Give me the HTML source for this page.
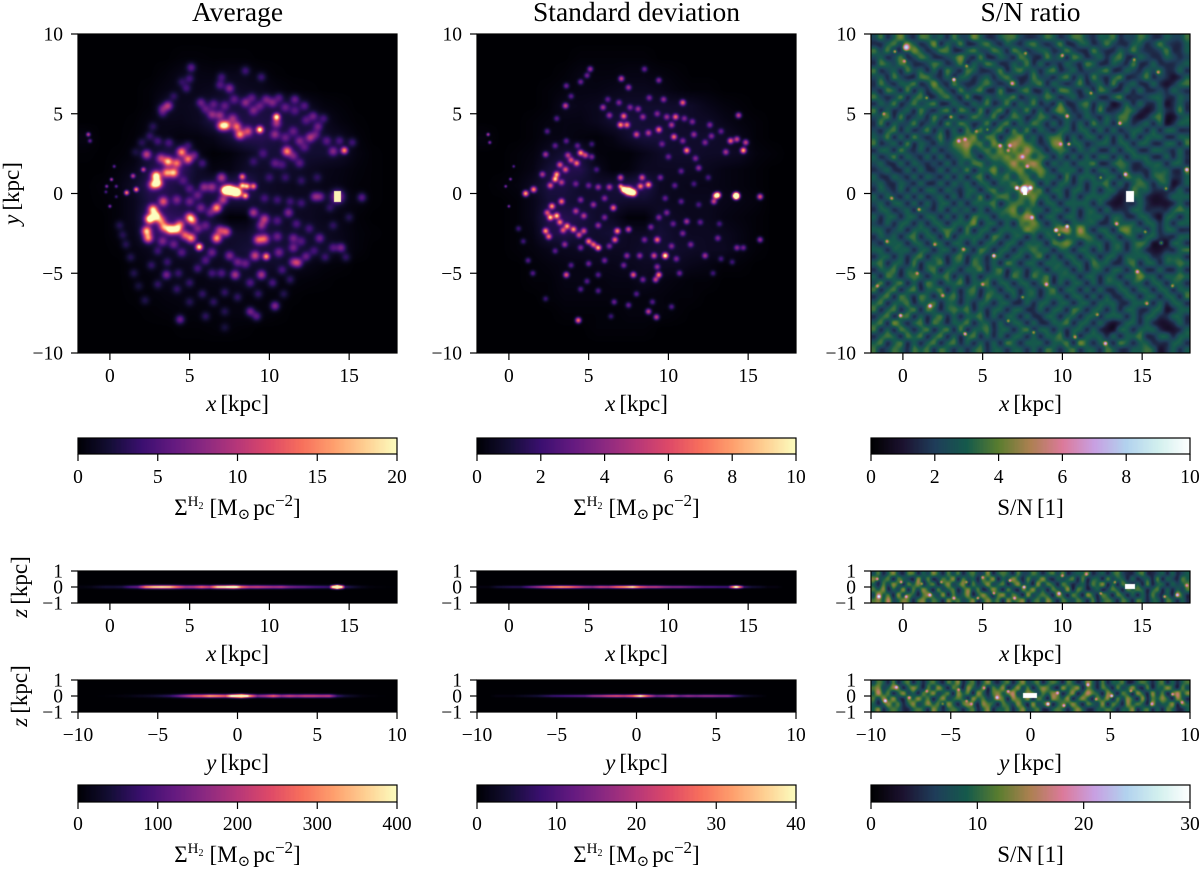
<!DOCTYPE html>
<html lang="en">
<head>
<meta charset="utf-8">
<title>H2 surface density maps</title>
<style>
html,body{margin:0;padding:0;background:#fff;}
#figure{position:relative;width:1200px;height:870px;overflow:hidden;background:#fff;}
canvas{position:absolute;display:block;}
svg{position:absolute;left:0;top:0;}
text{font-family:"Liberation Serif","DejaVu Serif",serif;fill:#000;}
.title{font-size:27.5px;text-anchor:middle;}
.lab{font-size:23px;text-anchor:middle;}
.tick{font-size:19.5px;}
</style>
</head>
<body>
<div id="figure">
<canvas id="c-avg" width="319" height="319" style="left:78px;top:34px"></canvas>
<canvas id="c-std" width="319" height="319" style="left:477px;top:34px"></canvas>
<canvas id="c-sn" width="319" height="319" style="left:871px;top:34px"></canvas>
<canvas id="cb1-avg" width="319" height="16" style="left:78px;top:438px"></canvas>
<canvas id="cb1-std" width="319" height="16" style="left:477px;top:438px"></canvas>
<canvas id="cb1-sn" width="319" height="16" style="left:871px;top:438px"></canvas>
<canvas id="xz-avg" width="319" height="32" style="left:78px;top:571px"></canvas>
<canvas id="xz-std" width="319" height="32" style="left:477px;top:571px"></canvas>
<canvas id="xz-sn" width="319" height="32" style="left:871px;top:571px"></canvas>
<canvas id="yz-avg" width="319" height="32" style="left:78px;top:680px"></canvas>
<canvas id="yz-std" width="319" height="32" style="left:477px;top:680px"></canvas>
<canvas id="yz-sn" width="319" height="32" style="left:871px;top:680px"></canvas>
<canvas id="cb2-avg" width="319" height="17" style="left:78px;top:785px"></canvas>
<canvas id="cb2-std" width="319" height="17" style="left:477px;top:785px"></canvas>
<canvas id="cb2-sn" width="319" height="17" style="left:871px;top:785px"></canvas>

<svg id="overlay" width="1200" height="870" viewBox="0 0 1200 870">
  <text class="title" x="237.5" y="21">Average</text>
  <text class="title" x="636.5" y="21">Standard deviation</text>
  <text class="title" x="1030.5" y="21">S/N ratio</text>

  <text class="lab" transform="translate(19,193.5) rotate(-90)"><tspan font-style="italic">y</tspan><tspan dx="4">[kpc]</tspan></text>
  <text class="lab" transform="translate(27,587) rotate(-90)"><tspan font-style="italic">z</tspan><tspan dx="4">[kpc]</tspan></text>
  <text class="lab" transform="translate(27,696) rotate(-90)"><tspan font-style="italic">z</tspan><tspan dx="4">[kpc]</tspan></text>

  <text class="lab" x="237.5" y="411"><tspan font-style="italic">x</tspan><tspan dx="4">[kpc]</tspan></text>
  <text class="lab" x="636.5" y="411"><tspan font-style="italic">x</tspan><tspan dx="4">[kpc]</tspan></text>
  <text class="lab" x="1030.5" y="411"><tspan font-style="italic">x</tspan><tspan dx="4">[kpc]</tspan></text>
  <text class="lab" x="237.5" y="661"><tspan font-style="italic">x</tspan><tspan dx="4">[kpc]</tspan></text>
  <text class="lab" x="636.5" y="661"><tspan font-style="italic">x</tspan><tspan dx="4">[kpc]</tspan></text>
  <text class="lab" x="1030.5" y="661"><tspan font-style="italic">x</tspan><tspan dx="4">[kpc]</tspan></text>
  <text class="lab" x="237.5" y="770"><tspan font-style="italic">y</tspan><tspan dx="4">[kpc]</tspan></text>
  <text class="lab" x="636.5" y="770"><tspan font-style="italic">y</tspan><tspan dx="4">[kpc]</tspan></text>
  <text class="lab" x="1030.5" y="770"><tspan font-style="italic">y</tspan><tspan dx="4">[kpc]</tspan></text>

  <text class="lab" x="237.5" y="515">Σ<tspan font-size="15" dy="-9">H</tspan><tspan font-size="10" dy="3">2</tspan><tspan dy="6" dx="6">[M</tspan><tspan font-size="15" dy="4">⊙</tspan><tspan dy="-4" dx="3">pc</tspan><tspan font-size="17" dy="-9">−2</tspan><tspan dy="9">]</tspan></text>
  <text class="lab" x="636.5" y="515">Σ<tspan font-size="15" dy="-9">H</tspan><tspan font-size="10" dy="3">2</tspan><tspan dy="6" dx="6">[M</tspan><tspan font-size="15" dy="4">⊙</tspan><tspan dy="-4" dx="3">pc</tspan><tspan font-size="17" dy="-9">−2</tspan><tspan dy="9">]</tspan></text>
  <text class="lab" x="1030.5" y="515">S/N<tspan dx="4">[1]</tspan></text>
  <text class="lab" x="237.5" y="862">Σ<tspan font-size="15" dy="-9">H</tspan><tspan font-size="10" dy="3">2</tspan><tspan dy="6" dx="6">[M</tspan><tspan font-size="15" dy="4">⊙</tspan><tspan dy="-4" dx="3">pc</tspan><tspan font-size="17" dy="-9">−2</tspan><tspan dy="9">]</tspan></text>
  <text class="lab" x="636.5" y="862">Σ<tspan font-size="15" dy="-9">H</tspan><tspan font-size="10" dy="3">2</tspan><tspan dy="6" dx="6">[M</tspan><tspan font-size="15" dy="4">⊙</tspan><tspan dy="-4" dx="3">pc</tspan><tspan font-size="17" dy="-9">−2</tspan><tspan dy="9">]</tspan></text>
  <text class="lab" x="1030.5" y="862">S/N<tspan dx="4">[1]</tspan></text>
</svg>
</div>

<script>
/* ---------- tick data ---------- */
const xTickValues = [0, 5, 10, 15];
const xTickLabels = ["0", "5", "10", "15"];
const yTickValues = [-10, -5, 0, 5, 10];
const yTickLabels = ["−10", "−5", "0", "5", "10"];
const zTickValues = [-1, 0, 1];
const zTickLabels = ["−1", "0", "1"];

const cbarAvgTicks = [0, 5, 10, 15, 20];
const cbarStdTicks = [0, 2, 4, 6, 8, 10];
const cbarSnTicks = [0, 2, 4, 6, 8, 10];
const cbarAvgEdgeTicks = [0, 100, 200, 300, 400];
const cbarStdEdgeTicks = [0, 10, 20, 30, 40];
const cbarSnEdgeTicks = [0, 10, 20, 30];

/* ---------- colormap stops ---------- */
const magmaStops = ["#000004","#140e36","#3b0f70","#641a80","#8c2981","#b73779","#de4968","#f76f5c","#fe9f6d","#fecf92","#fcfdbf"];
const cubeStops = ["#000000","#1c1230","#1f3d5a","#155a4c","#5a7d2f","#ad8052","#dc7a9a","#c8a0e2","#b2d2ee","#d2f0ee","#ffffff"];

/* ---------- face-on diffuse background, M_sun/pc^2, 1 kpc cells, top row y=9.5 ---------- */
const avgBackground = [
[0,0,0,0,0,0,0,0,0,0,0,0,0,0,0,0,0,0,0,0],
[0,0,0,0,0,0,.2,.2,.1,.1,.1,0,0,0,0,0,0,0,0,0],
[0,0,0,0,0,.3,.8,.6,.5,.8,.8,.4,.1,0,0,0,0,0,0,0],
[0,0,0,0,.2,.6,.8,.8,1,1.5,1.2,1,.5,.2,.1,0,0,0,0,0],
[0,0,0,0,.2,1.5,1,1.2,1.8,2,2,2.2,2.2,1.8,1,.4,.2,0,0,0],
[0,0,0,.1,.5,.8,.8,1.2,2.5,3,2.5,2.5,2.2,2,2,1,.4,.1,0,0],
[.5,0,0,.2,.6,.6,.4,.4,.8,2,3,3,2.2,2.2,2.2,1.5,1,.3,0,0],
[.1,0,.1,.3,1.5,2.5,2.5,.6,.1,.3,1,1.8,2,2,1.8,1.8,1.5,.5,.1,0],
[0,0,.3,.8,2.5,3.5,3.5,1.5,.5,.6,1.5,1.5,1.5,1.5,1.2,.8,.6,.3,.1,0],
[0,.2,.5,1.5,3,3,2,1.5,2.5,3,4,1.5,1.2,1,1,.7,.5,.2,.1,0],
[0,.1,.3,1,2.5,2.5,2,2,2,2,2,1.5,1.2,1.2,1.2,1,.7,.5,.1,0],
[0,0,.3,1,3.5,3.5,3,2,1.5,.1,.2,2,1.5,1.2,1.2,.8,.6,.2,0,0],
[0,0,.3,.8,3,3.5,2.5,2,2.5,1.5,1.5,2.5,1.8,1.5,1.5,1.2,.8,.3,.1,0],
[0,0,.1,.5,1,1.2,1.5,2,1.5,1.5,2,2.2,2,1.8,1.5,1.5,.8,.3,0,0],
[0,0,0,.3,.5,.8,.8,1,1,1.2,1.5,1.5,1.5,1,.7,.3,.2,0,0,0],
[0,0,0,.2,.3,.7,.8,.5,.7,.8,1.2,.8,.5,.3,.2,.1,0,0,0,0],
[0,0,0,.1,.2,.4,.5,.5,.4,.4,.4,.4,.3,.1,0,0,0,0,0,0],
[0,0,0,0,.1,.2,.3,.3,.3,.4,.5,.4,.2,0,0,0,0,0,0,0],
[0,0,0,0,0,0,.1,.1,.2,.2,.1,0,0,0,0,0,0,0,0,0],
[0,0,0,0,0,0,0,0,0,0,0,0,0,0,0,0,0,0,0,0]
];
const stdBackground = [
[0,0,0,0,0,0,0,0,0,0,0,0,0,0,0,0,0,0,0,0],
[0,0,0,0,0,0,.1,.1,.1,.1,.1,0,0,0,0,0,0,0,0,0],
[0,0,0,0,0,.1,.3,.2,.2,.3,.3,.2,.1,0,0,0,0,0,0,0],
[0,0,0,0,.1,.2,.3,.3,.4,.5,.5,.4,.2,.1,.1,0,0,0,0,0],
[0,0,0,0,.1,.5,.4,.5,.7,.8,.8,.8,.8,.7,.4,.2,.1,0,0,0],
[0,0,0,.1,.2,.3,.3,.5,.9,1.1,.9,.9,.8,.7,.7,.4,.2,.1,0,0],
[.2,0,0,.1,.3,.3,.2,.1,.3,.8,1.1,1.1,.8,.8,.8,.7,.4,.1,0,0],
[0,0,.1,.2,.6,1,1,.2,.1,.1,.4,.7,.8,.8,.7,.7,.6,.2,.1,0],
[0,0,.1,.3,1,1.4,1.4,.5,.1,.2,.6,.6,.6,.6,.5,.3,.2,.1,0,0],
[0,.1,.2,.6,1.2,1.2,.8,.8,1,1.3,1.5,.6,.5,.4,.4,.3,.2,.1,0,0],
[0,0,.1,.4,1,1,.8,.8,.9,.8,.8,.6,.5,.5,.5,.4,.3,.2,0,0],
[0,0,.1,.4,1.4,1.4,1.2,.8,.6,.1,.1,.8,.6,.5,.5,.3,.2,.1,0,0],
[0,0,.1,.3,1.2,1.4,1,.8,1,.6,.6,1,.7,.6,.6,.5,.3,.1,0,0],
[0,0,.1,.2,.4,.5,.6,.7,.6,.6,.8,.9,.8,.7,.6,.6,.3,.1,0,0],
[0,0,0,.1,.2,.3,.3,.4,.4,.5,.6,.6,.6,.4,.3,.1,.1,0,0,0],
[0,0,0,.1,.1,.3,.3,.2,.3,.3,.5,.3,.2,.1,.1,0,0,0,0,0],
[0,0,0,0,.1,.2,.2,.2,.2,.2,.2,.2,.1,.1,0,0,0,0,0,0],
[0,0,0,0,0,.1,.1,.1,.1,.2,.2,.2,.1,0,0,0,0,0,0,0],
[0,0,0,0,0,0,0,.1,.1,.1,.1,0,0,0,0,0,0,0,0,0],
[0,0,0,0,0,0,0,0,0,0,0,0,0,0,0,0,0,0,0,0]
];

/* ---------- clumps: [x kpc, y kpc, peak value, optional width kpc] ---------- */
const avgClumps = [
[14.27,-.2,8,.3],[7.5,.2,30,.2],[7.2,.2,20,.18],[7.85,.1,26,.18],[8.05,.05,14],[8.3,1.05,12,.13],[8.3,.5,14,.13],[8.6,.45,14,.13],[9,.45,12,.13],[8.5,-.15,14,.13],[7,1,8],
[6.7,-.9,14],[7.1,-.4,8],[6.7,-2.8,14],[7.3,-2.4,10],[6.9,-2.3,8],[5.6,-3.35,18,.15],[5.1,-2.8,13],[5,-1.5,13],[5.2,-1.7,10],
[2.7,-1,16],[2.9,-1.4,18],[2.5,-1.6,20],[3.2,-1.7,10],[3.8,-2.25,18],[4.2,-2.25,16],[2.3,-2.35,15],[2.4,-2.8,13],[3.35,-.5,10],[4.4,-1.95,10],[3.4,-2.1,12],[4.7,-2.6,10],
[2.9,1.1,20],[3,.65,18],[3.65,2,15],[3.55,1.3,12],[4,1.3,14],[4.5,2.6,13],[4.9,2.15,12],[4.2,1.9,11],[2.3,2.45,9],[2.7,.55,12],[1.65,.25,14,.1],[1.05,.05,14,.1],[1.45,1.1,9,.1],[2.1,1.5,9,.1],[3.2,2.2,8],[5.3,2.4,5],
[.1,.88,10,.07],[-.2,.45,8,.07],[.4,.45,6,.07],[0,-.8,8,.07],[.27,1.7,6,.07],[-.25,.1,5,.07],[.4,-.2,4,.07],[-1.35,3.7,10,.09],[-1.25,3.3,6,.09],
[7,4.25,13],[7.3,4.27,14],[7.95,4.2,11],[8.15,3.7,13],[8.65,3.9,9],[9.4,4,18,.15],[10.45,4.8,18,.15],[11.1,2.65,13],[14.7,2.7,14,.15],[12.55,3.5,7],[14,2.65,6],
[6.4,4.95,6],[6.9,4.9,6],[7.7,4.7,6],[3.65,5.5,8],[3.3,5.3,5],[5.1,7.9,5],[7.5,6.6,6],[5.7,5.7,5],[8.5,5.7,6],[9.8,5.9,5],[10.2,5.7,5],[11.6,5.9,5],[10.45,4.4,7],[10.35,3.7,6],[12.75,4.85,5],[13.05,4.2,5],[11.9,3.3,5],[11.5,2.35,5],[11.9,1.9,4],[10.35,1.9,4],[12.2,5.5,4],[9,5.2,5],[6.9,6.8,4],[8.5,7.7,3.5],[9.5,7.3,3.5],[7,7.3,3.5],[4.8,6.6,3.5],[5,7.2,3.5],
[4,6.1,2.5],[3.3,5,2.5],[2.7,4.2,2.5],[4.5,7,2.5],[2,3.2,2.5],[1.6,2.6,2],
[12.85,-.2,6],[13.2,-.2,5],[15.8,-.25,5],[13.15,-2.8,5],[14.5,-3.4,6],[14,-3.4,4],[11.5,-2.8,5],[9.8,-3.95,14,.15],[9.1,-3.9,9],[9.7,-2.85,10],[9.3,-2.9,10],[9.7,-1.6,8],[9.5,-2,6],[9,-1.2,8],[11.2,-1.2,6],[11.8,-4.35,8],[11.5,-4.3,6],[9.5,-5.1,8],[7.85,-5.1,8],[7.5,-3.9,6],[10.35,-7.05,7],[8.8,-7.4,6],[9.2,-7.7,5],[4.4,-7.9,6],[3.55,-5.1,6],[12.3,-3.95,5],[11.5,-3.4,5],[10.6,-3.7,5],[6.4,-3.7,5],[8,-4.3,5],
[.6,-2,2.5],[.8,-2.6,2.5],[1,-3.2,2.5],[1.3,-4,2.5],[1.5,-5,2.5],[2.2,-6.7,2.5],[1.8,-5.8,2],[3,-3.6,3],[3.6,-4.3,3],[4.3,-5,3],[5,-5.6,3],[5.8,-6.3,3],[6.5,-6.8,3],[7.2,-7.4,2.5],[4.2,-6,3],[5,-6.8,2.5],[2.6,-4.5,3],[3,-5.7,3],
[6,5.3,4],[6.5,5.6,4],[7.2,5.5,4],[7.8,5.9,4],[8.9,6,4],[9.4,5.5,4],[10.6,6,4],[11,5.4,4],[11.6,5.2,3.5],[12.3,4.6,3.5],[13.4,4.7,3.5],[12.9,3.7,4],[13.6,3.3,4],[14.4,3.3,3.5],[15.2,3.2,3.5],[11,3.5,4],[11.5,3.9,4],[12.2,2.9,3.5],[10.8,1.8,3],[9.6,2.5,3],[9,2,2.5],[10,1,2.5],[11,1,2.5],[12,.8,2.5],[13,1,2.5],[9.7,-.3,3],[10.5,-.4,3],[11.3,-.5,3],[12,-.6,3],[13.8,-.9,2.5],[10.5,-1.7,3.5],[11.7,-1.9,3.5],[12.5,-2.2,3],[14,-2,2.5],[15,-1.5,2.5],[10.5,-2.7,4.5],[12,-3,3.5],[12.8,-3.6,3],[13.5,-4,3],[14.8,-4,3],[10.8,-4.8,3.5],[11.3,-5.4,3],[10.2,-5.6,4],[8.8,-5.6,4],[8.5,-4.4,4.5],[7,-5,4],[6.4,-5,3.5],[5.5,-4.7,3.5],[6,-4.2,4],[7.2,-6.2,3],[8,-6.5,3],[9.3,-6.3,3],[10.9,-6.3,2.5],[6,-7.7,3],[7.2,-8.4,2],[3.3,-3,5],[4,-3.2,4.5],[4.5,-3.7,4],[5.5,-2.2,5],[6,-2,4],[6.3,-1.2,4.5],[5.7,-.9,5],[5,-.5,4.5],[4.2,-.4,5],[5.5,-.1,4.5],[5.9,.4,6],[6.4,.4,6],[5,.3,3.5],[4.6,.8,3],[5.8,1.9,3.5],[4.9,3,3],[3.7,3.2,3.5],[3,3.3,3.5],[2.5,3.6,3]
];
const avgBlocks = [[14.27,-.2,.24,.34]];
const stdClumps = [
[14.25,-.15,22,.13],[7.5,.15,16,.16],[7.2,.25,11,.13],[7.8,.05,13,.14],[7,.45,6,.1],[8.75,.55,7],[8.25,.45,6],[8.35,1,5],[7,1,5],[6.3,.4,4],[5.6,.4,3.5],
[12.95,-.15,7],[13.1,-.1,10],[15.75,-.2,6],[12.85,-.5,5],
[5.6,-3.4,8],[5,-3,6.5],[2.7,-.8,7],[2.6,-1.5,8],[3,-1.4,8],[3.65,-2.05,7],[4.05,-2.25,7],[2.3,-2.35,7],[2.5,-2.7,6],[3.3,-.5,6],[4.7,-2.35,5],[3.2,-1.8,6],[2.4,-1.2,5],[3.4,-2.3,5],[4.4,-2.6,5],[5.3,-3.2,6],[4.7,-1.4,4],[4.2,-1.1,4],
[2.9,.9,8],[3,1.2,7],[3.55,1.5,5],[4.5,2.55,7],[4.25,1.9,6],[3.2,1.8,5],[1.55,.25,7],[1.05,0,8],[2.3,2.45,4],[3.9,2.1,5],[4.8,2.4,5],[2.6,.5,5],[3.3,.7,4],[2.1,1.2,4],[3.7,2.4,4],[5.2,2.3,3],
[.1,.9,4,.06],[-.2,.45,4,.06],[0,-.8,4,.06],[-1.3,3.7,5,.07],[-1.2,3.2,4,.07],[.3,1.7,3,.06],
[7.2,4.85,6],[7,4.3,7],[7.4,4.3,6],[8,3.7,5],[8.75,3.8,4],[9.4,4,6],[10.9,5.7,6],[10.45,4.8,6],[10.35,3.55,6],[11.15,2.7,7],[14.7,2.7,8],[14.85,3.2,5],[13.9,3.3,6],[14.3,3.4,5],[14.4,4.9,5],[3.55,5.5,5],[5.1,7.8,4],[7.05,7.2,5],[7.5,6.65,4],[3.6,6.75,3],
[5.9,5.4,4],[6.3,4.9,3.5],[8.4,4.8,3.5],[9.7,5.9,3.5],[10.2,4.3,4],[11.5,4.5,3],[12.6,4.3,3],[12.3,3.2,3],[11.7,2.2,3],[11.9,1.6,3.5],[13.6,2.6,4],[8.8,6,3],[9.4,7.1,3.5],[8.5,7.8,3],[4.9,7.4,3],[4.5,7,3],[3.9,6.1,2.5],[3,4.7,2.5],[2.4,3.9,2.5],
[9.3,-2.9,6],[9.8,-3.9,10],[9.1,-3.9,5],[9.4,-5.1,7],[9.2,-5.4,5],[7.8,-5.1,6],[11.15,-1.75,4],[6.8,-2.35,7],[6.65,-2.9,6],[7.5,-2.25,5],[6.55,-.9,6],[4.35,-7.95,7],[8.75,-7.4,5],[9.25,-7.75,5],[3.6,-5.1,6],[15.75,-2.9,4],[14.3,-3.4,3.5],[12.3,-3.9,4],[14.7,-3.4,3],[13.1,-2.8,3],[9.9,-1.2,3],[10.9,-2.5,3],[11.4,-3.2,3],[10.5,-4.1,3],[8.2,-3.9,3.5],[7.4,-3.9,3.5],[6.3,-3.3,3],
[.6,-2.2,2],[.9,-3,2],[1.2,-4.2,2.5],[1.5,-5,2.5],[2.3,-6.6,2],[2.9,-3.6,2.5],[3.9,-4.5,2.5],[4.9,-5.5,2.5],[5.6,-6.1,2.5],[6.6,-6.8,3],[7.5,-7,3],[10.2,-7.1,2.5],[4.5,-6,2.5],[5.6,-5.1,2.5],
[6.2,5.9,2.5],[6.9,5.7,3],[7.6,5.4,3],[8.1,5.3,3.5],[9.3,5,3],[9.9,4.8,3.5],[11,4.7,3],[11.6,3.7,3.5],[12.7,3.6,3],[13.3,3.9,2.5],[10.9,3.3,3],[9.6,3.1,2.5],[10,2.3,2.5],[10.8,1.4,2.5],[9.5,1,3],[10.4,.5,2.5],[11.6,.6,2],[12.5,1,2],[9.8,-.3,2.5],[10.8,-.5,2.5],[11.9,-.7,2],[12,-1.8,2.5],[13.2,-1.9,2],[10.3,-1.9,2.5],[9.4,-1.5,3],[8.9,-2.1,3],[8.5,-2.9,3],[10.2,-3.3,3],[9.3,-4.6,3.5],[10.7,-5,3],[8.4,-5.4,3],[7.2,-4.5,3],[6,-4.2,3],[5,-4.4,3],[3.5,-3.2,3.5],[4.5,-3.4,3],[5.6,-2,3.5],[6,-1.5,3],[5.3,-.7,3.5],[6,-.3,3],[4.5,-.4,3],[5,.5,2.5],[4.2,.6,2.5],[5.5,1.5,2],[5.2,3.1,2],[4.3,3,2.5],[3.6,3.3,2.5],[2.9,3,2.5],[8,-6.3,2.5],[9,-6.8,2.5],[6.4,-7.7,2],[14,-4.3,2],[13.3,-4.1,2],[12.8,-5,2]
];

/* ---------- S/N face-on map, 48 x 48 cells, top row first ---------- */
const snGrid = [
[2,4,1,3,5,2,1,4,4,2,3,1,4,2,2,5,3,1,1,3,4,4,2,1,1,2,4,3,1,2,4,4,2,1,3,3,4,1,2,2,4,3,1,1,3,2,2,4],
[1,1,3,4,2,4,3,1,2,5,1,3,2,4,1,1,3,4,2,1,3,2,1,3,4,2,1,2,4,1,1,3,3,1,2,4,2,1,1,3,3,1,2,4,2,1,1,3],
[4,2,4,1,1,2,5,3,1,2,4,4,1,1,3,4,2,2,4,3,1,4,3,1,2,3,3,1,2,4,2,1,1,4,2,1,1,3,2,4,2,1,1,2,4,1,1,3],
[2,3,1,2,4,1,2,4,3,1,1,2,3,5,2,1,4,1,1,3,2,1,4,3,1,1,4,2,3,1,4,3,1,2,3,1,3,4,1,1,3,2,1,1,3,2,1,2],
[1,4,3,2,4,3,1,1,2,4,3,1,2,4,1,3,2,4,3,1,1,3,2,4,1,3,1,2,1,3,2,1,4,3,1,1,3,2,1,4,1,1,3,1,1,1,2,3],
[4,1,2,3,1,4,2,3,1,3,1,4,2,1,4,3,1,1,2,4,1,3,4,2,3,1,3,4,1,2,3,1,2,2,3,4,1,1,3,2,1,3,2,3,1,1,3,1],
[2,3,1,4,2,1,1,4,4,2,1,3,1,3,3,1,2,3,1,3,4,2,1,1,4,2,2,1,3,4,1,3,1,4,2,1,3,4,1,1,2,4,1,2,1,0,1,3],
[1,4,2,1,3,3,4,1,2,5,2,1,4,2,1,1,3,4,2,1,2,4,1,2,3,4,1,3,2,1,2,4,1,2,3,1,4,1,2,3,1,1,3,1,0,1,3,4],
[2,1,4,3,1,4,1,3,1,3,4,2,1,4,2,3,4,1,1,4,1,1,3,4,1,1,3,1,4,4,2,1,3,1,4,3,1,1,3,1,3,1,1,2,1,3,2,1],
[4,2,1,2,4,1,3,4,1,1,3,4,2,1,4,1,1,3,2,3,3,4,1,2,3,2,4,3,1,2,3,1,2,3,1,1,3,4,1,1,1,2,3,3,1,1,3,2],
[1,3,2,4,1,2,4,2,3,4,1,1,3,2,1,3,2,4,1,2,4,1,3,2,4,1,2,1,4,1,1,3,4,1,3,2,0,1,3,1,3,1,1,3,0,1,3,1],
[4,1,3,1,2,3,1,4,2,1,3,4,1,4,3,1,4,1,3,4,1,3,2,4,1,3,1,3,5,3,1,2,3,1,4,1,1,2,4,3,1,0,1,3,1,1,4,1],
[2,3,4,1,4,1,2,3,1,4,2,1,3,1,2,4,3,2,4,1,2,4,3,1,2,4,3,1,2,3,2,1,3,2,1,3,2,4,4,1,0,1,3,4,0,0,2,3],
[1,4,1,3,2,2,4,1,2,3,1,4,2,4,3,1,2,4,1,3,4,1,3,2,4,3,1,3,1,3,1,3,1,4,2,3,1,3,3,1,2,3,1,3,0,1,3,3],
[2,1,3,4,1,3,1,2,4,1,3,1,3,1,4,2,4,1,3,4,1,4,2,4,1,3,2,1,3,3,1,3,3,1,3,1,3,1,2,3,3,1,3,1,3,3,1,1],
[3,2,4,1,3,1,4,2,1,2,4,1,3,4,4,5,2,4,4,1,3,4,5,2,3,1,3,4,4,1,3,1,3,3,1,3,1,3,1,3,1,3,3,3,1,1,3,3],
[4,1,2,3,1,4,1,3,2,1,3,2,4,5,6,4,4,2,5,3,4,6,5,4,3,1,2,5,5,1,3,3,1,2,3,3,1,3,3,1,3,3,1,1,3,3,1,4],
[1,3,3,1,4,2,1,3,1,3,1,2,3,4,5,2,3,4,3,5,3,5,4,6,4,3,1,3,4,3,1,3,2,3,1,1,3,1,3,3,1,1,3,3,2,1,3,1],
[3,1,2,4,1,3,2,1,3,1,3,1,2,3,4,3,1,3,4,4,5,4,6,5,3,4,3,1,3,1,3,1,3,1,3,3,1,3,1,3,3,3,1,1,3,1,3,1],
[2,3,1,1,3,1,3,2,1,2,1,3,1,3,2,4,4,2,3,3,4,6,4,5,6,4,1,3,2,3,1,3,3,4,1,1,3,4,3,1,1,3,3,3,1,3,3,1],
[1,2,3,1,1,3,1,3,1,1,3,1,3,2,4,1,3,3,5,2,3,4,5,3,4,5,3,1,3,3,3,1,3,1,3,3,1,3,3,1,1,1,3,3,3,1,1,4],
[3,1,1,3,2,1,3,1,3,2,1,3,1,3,1,3,4,1,3,3,4,2,4,4,2,4,3,3,1,4,1,3,3,3,1,3,3,1,4,3,3,1,3,4,3,1,1,3],
[2,3,1,1,3,2,1,3,1,1,3,1,3,2,3,1,3,3,1,3,3,4,3,5,4,1,3,1,3,3,1,3,1,3,3,4,1,3,1,3,4,3,1,3,3,0,1,3],
[1,3,2,1,3,1,3,1,3,3,1,3,2,1,3,3,1,3,4,2,3,3,4,6,4,4,1,3,3,1,3,3,1,3,1,3,3,1,1,4,3,3,1,1,1,1,3,1],
[3,1,3,2,1,3,1,3,1,2,3,1,3,1,3,2,4,1,3,4,4,2,4,4,5,3,3,1,3,1,3,1,3,3,3,3,1,0,1,3,3,1,0,0,1,3,3,3],
[2,3,1,3,3,1,3,1,3,1,3,3,1,3,1,3,3,3,4,1,3,4,4,3,4,1,3,3,1,3,3,3,3,1,3,1,0,0,1,1,3,1,0,0,0,1,3,1],
[1,3,3,1,2,3,1,3,2,1,3,1,3,2,3,1,3,1,3,3,4,5,2,4,3,3,1,3,3,1,3,1,3,3,1,3,1,1,1,3,3,1,1,1,1,3,4,3],
[3,1,3,3,1,3,3,1,3,3,1,3,1,3,1,4,3,3,1,3,3,4,4,6,4,1,3,3,1,3,3,1,3,3,3,1,3,3,1,1,3,3,1,0,3,3,1,3],
[2,1,3,1,3,3,1,3,1,3,3,1,3,3,3,5,1,3,3,1,3,1,4,4,5,3,1,3,3,1,3,3,3,3,1,1,3,3,3,3,1,3,3,1,3,1,3,3],
[3,3,1,2,3,1,3,3,3,1,3,4,3,1,4,1,3,3,1,3,3,3,3,5,4,3,3,3,5,6,3,6,3,1,3,3,1,4,5,3,3,1,3,1,3,3,1,1],
[1,3,2,3,1,3,4,1,3,3,1,4,1,3,3,3,3,1,4,3,1,3,3,1,3,1,3,3,1,3,3,4,4,3,1,3,3,1,3,3,1,3,3,1,1,1,3,3],
[2,1,3,3,3,1,3,3,1,3,3,1,3,3,1,3,1,3,3,1,3,3,1,3,3,3,1,4,4,5,3,1,3,3,3,1,3,3,1,3,4,3,0,0,0,3,3,1],
[3,3,1,3,3,3,1,3,3,1,3,3,1,3,3,1,4,3,1,3,3,1,3,3,4,3,3,1,3,3,1,3,3,1,3,1,3,3,1,3,3,1,0,0,1,1,3,4],
[1,3,3,1,3,1,3,4,1,3,3,1,3,4,1,3,3,1,3,3,1,3,3,1,3,4,1,3,1,3,3,1,3,3,1,3,3,1,3,3,3,3,1,1,3,3,3,1],
[3,4,1,3,3,1,4,1,3,3,4,1,3,3,1,4,3,1,3,1,4,3,1,3,3,1,3,3,3,1,3,3,1,4,3,3,1,1,3,4,1,3,3,1,3,3,4,3],
[1,3,3,4,1,3,3,1,3,4,1,3,3,1,3,3,4,1,3,4,1,3,3,1,3,3,1,3,3,3,1,3,1,3,3,1,3,3,1,3,3,1,1,3,1,1,3,1],
[3,1,4,3,1,3,4,3,1,3,3,4,1,3,1,3,1,3,3,3,1,4,3,1,4,3,4,1,3,3,3,1,3,3,1,3,3,1,3,3,5,3,3,1,3,3,4,3],
[2,4,1,3,4,1,3,1,4,3,1,3,3,4,1,3,3,4,1,3,3,1,3,3,1,3,4,1,3,1,3,3,1,3,1,3,3,3,1,3,3,1,3,3,1,3,3,1],
[4,1,3,4,1,3,4,1,3,3,4,1,3,1,3,4,1,3,3,1,3,3,1,3,3,1,3,4,1,3,3,1,3,1,3,1,1,3,3,1,3,3,1,3,3,1,3,3],
[1,3,4,1,4,3,1,4,3,1,3,3,4,1,3,3,1,4,3,3,1,3,1,3,3,1,3,3,3,1,3,3,1,3,1,3,1,1,3,3,1,3,3,1,3,3,1,4],
[3,4,1,3,3,4,1,3,3,4,1,3,3,1,3,1,3,3,1,3,3,1,1,3,1,3,3,1,3,3,1,3,3,1,3,3,3,1,1,3,3,3,1,3,1,3,3,1],
[4,1,3,4,1,3,4,1,4,3,1,3,4,3,4,1,3,1,3,3,1,3,3,1,1,3,1,3,3,1,4,3,1,3,3,1,3,1,3,3,1,1,3,3,0,1,3,3],
[1,3,4,1,3,4,1,3,1,3,4,1,3,1,3,3,4,1,3,1,3,3,1,3,1,1,3,3,1,3,3,1,3,3,1,3,3,3,1,3,1,3,3,1,1,3,3,1],
[3,4,1,5,3,1,3,4,1,4,3,1,3,3,4,1,3,3,1,3,1,3,3,1,3,1,1,3,3,4,1,3,3,1,3,1,0,1,3,3,1,3,1,0,0,1,3,1],
[4,1,3,1,4,3,1,3,4,1,3,4,1,4,1,3,3,4,1,3,3,1,3,4,1,3,3,1,3,1,3,3,1,3,1,0,0,3,3,1,3,3,3,1,0,0,1,3],
[1,3,4,3,1,4,3,4,1,3,4,1,3,1,3,4,1,3,1,3,1,3,3,1,3,1,3,3,4,1,3,1,3,3,3,1,3,1,3,3,4,1,1,3,3,1,3,3],
[3,4,1,3,4,1,3,1,3,4,1,3,4,1,3,1,3,1,3,1,4,3,1,3,3,3,1,3,3,4,1,5,3,1,3,3,1,4,3,1,3,3,1,1,1,3,3,1],
[4,1,2,4,3,1,4,3,4,1,4,3,1,3,1,3,4,1,3,3,1,3,3,1,3,1,4,3,1,3,4,1,3,3,1,4,3,1,1,3,3,4,3,0,1,3,1,3]
];
const snSpots = [
[.2,9.15,9,.14],[-.5,8.9,7],[3.2,7.15,9],[10.3,4.85,7],[3.5,3.3,6.5],[3.9,3.4,6],[6.1,3,7],[6.7,3,6.5],[6.6,2.7,6],[10.4,3.1,8],[9.9,3.1,6],[7.6,.25,15,.13],[7.15,.35,10],[8,.35,10],[9.6,-2.3,9],[10.3,-2.05,9],[8.1,-1.5,7],[5.7,-3.9,9],[9.8,-2.6,6],[9,-5.7,7],[13.4,-1.9,7],[-.15,-7.65,8],[1.7,-7.05,8],[3.9,-8.8,8],[12.7,-9.4,8],[14.7,-4.9,7],[17.8,1.5,8],[13.95,1.2,8],[13.6,4.4,7],[10,8.65,6.5],[6.85,6.9,6.5],[7.8,1.7,6.5],[7.5,2.3,6],[4.6,3.9,5.5],[5.3,4,5.5],
[2,-3.2,6],[3.8,-3.5,6],[.1,8.3,6],[1.5,6,6],[3,4.8,6],[-.7,-.3,6],[1,-1,6],[2.5,-6.4,6],[6.6,-8,6],[8.2,-8.7,6],[10.8,-9,6],[12.2,-7.6,6],[15.3,-6.9,6],[16.9,-5.8,6],[15.2,-2.4,6],[16.2,-3.1,6],[16.5,.3,6],[12.4,1,6],[11.8,6.3,6],[16,7.6,6],[14.5,8.4,6],[4,8,6],[7.7,8.8,6],[-1.2,5,6],[-1,-3,6],[-1.6,-5.8,6],[.9,-5,6],[5,-5.7,6],[7.5,-6.5,6]
];
const snBlocks = [[14.25,-.2,.24,.34],[7.65,.1,.14,.18]];

/* ---------- edge-on surface density profiles, 0.5 kpc cells ---------- */
const avgXZProfile = [10,15,30,40,40,50,100,130,320,380,400,380,280,200,210,280,220,400,420,520,300,220,230,210,190,200,150,130,120,100,90,80,900,70,40,20,8,4,2,1];
const avgYZProfile = [0,0,1,2,4,8,12,20,25,35,50,70,120,190,260,270,340,310,270,500,700,350,160,200,280,180,230,200,230,230,210,220,80,40,25,10,5,2,1,0];
const stdXZProfile = [1,1,4,5,6,6,12,18,24,30,34,32,26,20,18,24,22,30,34,42,28,22,22,18,16,16,14,12,10,10,9,9,50,8,4,3,1,1,0,0];
const stdYZProfile = [0,0,1,1,1,2,3,4,6,8,9,10,11,12,18,20,24,26,24,30,44,26,14,16,22,14,18,16,18,18,16,16,8,4,2,1,0,0,0,0];

/* ---------- edge-on S/N, 64 x 6 cells, rows top to bottom ---------- */
const snXZGrid = [
[2,4,1,3,5,2,1,4,4,1,3,2,5,3,1,4,2,4,1,3,4,2,2,5,1,3,4,3,1,4,2,2,4,3,1,3,4,2,4,1,2,3,3,4,1,2,3,1,3,4,2,1,1,3,4,1,1,2,3,1,3,1,2,3],
[5,2,3,4,1,4,3,2,1,5,2,4,1,2,4,3,5,1,4,2,3,1,4,3,5,1,3,2,5,3,1,4,2,3,5,2,1,3,2,3,4,1,4,1,3,3,1,4,2,3,3,1,3,1,2,3,1,4,1,3,2,1,4,3],
[3,1,4,2,5,3,1,4,3,5,1,3,4,1,3,5,2,3,5,1,4,2,3,5,2,3,4,1,3,5,2,3,1,5,2,4,3,1,4,3,1,2,3,1,4,3,5,1,3,1,4,3,1,3,1,4,1,3,3,1,3,2,3,4],
[4,3,5,1,3,2,5,1,4,2,5,3,1,4,2,3,4,1,3,5,2,4,1,2,5,3,1,4,2,1,4,3,5,2,3,1,4,3,2,5,1,4,3,1,2,3,1,2,4,3,1,4,3,4,3,1,3,4,1,3,1,3,2,4],
[2,6,3,4,1,5,2,4,3,1,4,5,3,2,5,1,4,2,3,5,1,3,5,3,1,4,5,2,4,3,1,5,2,3,4,3,1,5,3,1,4,3,1,5,3,1,4,3,1,4,3,1,3,1,3,1,4,2,1,3,1,5,3,1],
[4,5,3,6,2,3,5,4,1,4,5,2,4,3,1,5,3,4,2,3,5,1,3,5,3,4,1,5,3,4,5,1,3,4,2,5,3,1,4,3,2,4,3,1,4,1,3,4,3,1,4,3,1,4,3,1,3,3,1,4,3,1,3,1]
];
const snYZGrid = [
[2,4,3,1,4,1,3,4,1,3,1,3,4,2,1,4,3,5,1,3,4,1,3,5,2,1,3,4,1,3,5,2,3,4,1,3,4,3,1,4,3,1,2,5,3,1,4,1,3,3,4,1,1,3,4,3,1,3,4,1,3,1,3,4],
[4,5,2,3,5,4,1,3,5,3,1,4,2,5,3,1,4,3,1,5,3,2,4,1,4,3,5,1,3,5,2,4,1,3,5,4,2,1,5,3,4,5,1,4,3,1,4,3,1,4,2,3,5,2,1,4,1,3,3,5,3,1,4,2],
[3,6,3,4,1,3,5,2,3,1,4,3,5,2,3,4,1,5,3,4,1,5,3,1,4,5,3,4,6,2,3,5,4,2,4,3,5,4,1,3,5,1,3,6,4,3,1,5,3,1,4,3,1,5,3,1,5,2,4,1,3,6,3,5],
[4,2,5,3,5,2,1,4,3,5,3,4,1,3,5,2,3,4,3,1,5,3,4,2,3,5,4,1,5,4,3,5,1,4,3,1,5,4,3,5,1,3,5,3,1,4,3,5,1,4,2,5,3,1,5,1,4,3,5,3,1,5,3,1],
[3,1,3,5,3,4,1,3,5,2,3,5,3,4,1,5,3,1,4,5,3,1,5,4,3,1,4,3,2,5,3,1,5,2,3,5,1,3,4,3,5,3,1,4,3,2,5,1,4,3,1,5,3,4,3,1,5,2,3,3,5,1,4,3],
[3,5,1,3,4,3,1,1,3,4,3,1,5,3,1,3,4,3,1,3,4,1,3,5,1,3,3,4,1,3,5,2,3,4,1,1,3,4,3,1,3,5,3,1,1,3,3,4,3,1,3,3,5,1,3,4,1,3,1,4,3,1,1,3]
];
const snXZSpots = [[-1.6,.5,7],[-1.5,-.6,8],[-.1,.3,7],[.2,-.6,7],[1.2,.2,6],[1.7,-.5,7],[2.4,.3,6],[3.2,-.7,7],[4,.3,6],[4.7,-.7,7],[5,.6,6],[5.7,-.4,7],[6.7,.4,7],[7.6,0,8],[7,-.7,7],[9.8,-.4,7],[10,.7,6],[11.5,.8,6],[13.3,.3,6],[17.2,-.5,7],[16.4,-.6,7],[17.8,.1,6],[12.4,-.4,6]];
const snYZSpots = [[-9.1,-.3,8],[-8.4,.55,7],[-7.6,-.1,6],[-6.5,.3,6],[-5.5,-.5,6],[-4.5,.4,6],[-3.7,-.5,6],[-2.9,.5,6],[-2.1,-.1,7],[-1.4,.3,7],[1.1,-.5,8],[1.7,.2,7],[2.1,-.6,7],[3.6,.7,7],[4.1,-.2,6],[5.1,0,9],[6.3,.3,6],[7.6,-.5,6],[8.9,.1,7],[9.5,-.4,6],[-4,-.3,6]];
const snXZBlocks = [[14.25,.02,.3,.14]];
const snYZBlocks = [[-.05,.02,.45,.16]];

/* ---------- helpers ---------- */
const PW = 319;
const columnLefts = [78, 477, 871];
const NS = "http://www.w3.org/2000/svg";
const overlay = document.getElementById("overlay");

function parseHex(h){return [parseInt(h.slice(1,3),16),parseInt(h.slice(3,5),16),parseInt(h.slice(5,7),16)];}
function makeLut(stops){
  const rgb = stops.map(parseHex);
  const lut = new Uint8ClampedArray(256*3);
  for(let i=0;i<256;i++){
    const t=i/255*(rgb.length-1),a=Math.min(Math.floor(t),rgb.length-2),f=t-a;
    for(let c=0;c<3;c++) lut[i*3+c]=rgb[a][c]+(rgb[a+1][c]-rgb[a][c])*f;
  }
  return lut;
}
const magmaLut = makeLut(magmaStops);
const cubeLut = makeLut(cubeStops);

function axisScale(d0,d1,r0,r1){return v=>r0+(v-d0)/(d1-d0)*(r1-r0);}

function sampleGrid(grid,u,v){
  const R=grid.length,C=grid[0].length;
  let fx=u*C-.5,fy=v*R-.5;
  fx=Math.max(0,Math.min(C-1.001,fx));
  fy=Math.max(0,Math.min(R-1.001,fy));
  const ix=Math.floor(fx),iy=Math.floor(fy),ax=fx-ix,ay=fy-iy;
  return (grid[iy][ix]*(1-ax)+grid[iy][ix+1]*ax)*(1-ay)+(grid[iy+1][ix]*(1-ax)+grid[iy+1][ix+1]*ax)*ay;
}
function catmull(a,b,c,d,t){return b+.5*t*(c-a+t*(2*a-5*b+4*c-d+t*(3*(b-c)+d-a)));}
function sampleCubic(grid,u,v){
  const R=grid.length,C=grid[0].length;
  const fx=Math.max(0,Math.min(C-1.001,u*C-.5)),fy=Math.max(0,Math.min(R-1.001,v*R-.5));
  const ix=Math.floor(fx),iy=Math.floor(fy),ax=fx-ix,ay=fy-iy;
  const rowVal=r=>{
    const row=grid[Math.max(0,Math.min(R-1,r))];
    const g=k=>{const w=row[Math.max(0,Math.min(C-1,k))];return w===undefined?3:w;};
    return catmull(g(ix-1),g(ix),g(ix+1),g(ix+2),ax);
  };
  return catmull(rowVal(iy-1),rowVal(iy),rowVal(iy+1),rowVal(iy+2),ay);
}
function sampleProfile(arr,u){
  let f=u*arr.length-.5;
  f=Math.max(0,Math.min(arr.length-1.001,f));
  const i=Math.floor(f),a=f-i;
  return arr[i]*(1-a)+arr[i+1]*a;
}
function paint(id,field,W,H,vmax,lut){
  const ctx=document.getElementById(id).getContext("2d");
  const im=ctx.createImageData(W,H);
  for(let p=0;p<W*H;p++){
    const k=Math.max(0,Math.min(255,Math.round(field[p]/vmax*255)));
    im.data[p*4]=lut[k*3];im.data[p*4+1]=lut[k*3+1];im.data[p*4+2]=lut[k*3+2];im.data[p*4+3]=255;
  }
  ctx.putImageData(im,0,0);
}
function addClumps(field,W,H,clumps,xd,yd,defS){
  const sx=axisScale(xd[0],xd[1],0,W),sy=axisScale(yd[0],yd[1],0,H);
  const kpcPx=W/(xd[1]-xd[0]);
  clumps.forEach(c=>{
    const cx=sx(c[0]),cy=sy(c[1]),s=(c[3]||defS)*kpcPx,rad=Math.ceil(s*3.5);
    for(let j=Math.max(0,Math.floor(cy-rad));j<=Math.min(H-1,cy+rad);j++)
      for(let i=Math.max(0,Math.floor(cx-rad));i<=Math.min(W-1,cx+rad);i++){
        const dx=i+.5-cx,dy=j+.5-cy;
        field[j*W+i]+=c[2]*Math.exp(-(dx*dx+dy*dy)/(2*s*s));
      }
  });
}
function addBlocks(field,W,H,blocks,xd,yd,val){
  const sx=axisScale(xd[0],xd[1],0,W),sy=axisScale(yd[0],yd[1],0,H);
  blocks.forEach(b=>{
    const x0=Math.round(sx(b[0]-b[2])),x1=Math.round(sx(b[0]+b[2]));
    const y0=Math.round(sy(b[1]+b[3])),y1=Math.round(sy(b[1]-b[3]));
    for(let j=y0;j<y1;j++)for(let i=x0;i<x1;i++)field[j*W+i]=val;
  });
}

/* ---------- face-on maps ---------- */
function faceOn(id,bg,clumps,blocks,vmax,defS,lut){
  const f=new Float32Array(PW*PW);
  for(let j=0;j<PW;j++)for(let i=0;i<PW;i++)f[j*PW+i]=sampleGrid(bg,(i+.5)/PW,(j+.5)/PW);
  addClumps(f,PW,PW,clumps,[-2,18],[10,-10],defS);
  addBlocks(f,PW,PW,blocks,[-2,18],[10,-10],vmax*.98);
  paint(id,f,PW,PW,vmax,lut);
}
faceOn("c-avg",avgBackground,avgClumps,avgBlocks,20,.2,magmaLut);
faceOn("c-std",stdBackground,stdClumps,[],10,.125,magmaLut);

function snMap(id,grid,spots,blocks,xd,H,vmax,yd,spotS,pivot,gain){
  const f=new Float32Array(PW*H);
  for(let j=0;j<H;j++)for(let i=0;i<PW;i++){
    const g=sampleCubic(grid,(i+.5)/PW,(j+.5)/H);
    f[j*PW+i]=(pivot+(g-pivot)*gain)*vmax/10;
  }
  const scaled=spots.map(s=>[s[0],s[1],Math.max(0,s[2]-3)*vmax/10,s[3]]);
  addClumps(f,PW,H,scaled,xd,yd,spotS);
  addBlocks(f,PW,H,blocks,xd,yd,vmax);
  paint(id,f,PW,H,vmax,cubeLut);
}
snMap("c-sn",snGrid,snSpots,snBlocks,[-2,18],PW,10,[10,-10],.08,2.8,.65);
snMap("xz-sn",snXZGrid,snXZSpots,snXZBlocks,[-2,18],32,30,[1,-1],.07,3,.75);
snMap("yz-sn",snYZGrid,snYZSpots,snYZBlocks,[-10,10],32,30,[1,-1],.07,3.1,.75);

/* ---------- edge-on strips ---------- */
function strip(id,profile,vmax,sigmaPx){
  const f=new Float32Array(PW*32);
  for(let j=0;j<32;j++){
    const dz=j+.5-16,g=Math.exp(-dz*dz/(2*sigmaPx*sigmaPx));
    for(let i=0;i<PW;i++)f[j*PW+i]=sampleProfile(profile,(i+.5)/PW)*g;
  }
  paint(id,f,PW,32,vmax,magmaLut);
}
strip("xz-avg",avgXZProfile,400,1.15);
strip("yz-avg",avgYZProfile,400,1.15);
strip("xz-std",stdXZProfile,40,.95);
strip("yz-std",stdYZProfile,40,.95);

/* ---------- colorbars ---------- */
function bar(id,H,lut){
  const f=new Float32Array(PW*H);
  for(let j=0;j<H;j++)for(let i=0;i<PW;i++)f[j*PW+i]=(i+.5)/PW;
  paint(id,f,PW,H,1,lut);
}
bar("cb1-avg",16,magmaLut);bar("cb1-std",16,magmaLut);bar("cb1-sn",16,cubeLut);
bar("cb2-avg",17,magmaLut);bar("cb2-std",17,magmaLut);bar("cb2-sn",17,cubeLut);

/* ---------- axes ---------- */
function tickLine(x1,y1,x2,y2,name){
  const el=document.createElementNS(NS,"line");
  el.setAttribute("x1",x1);el.setAttribute("y1",y1);el.setAttribute("x2",x2);el.setAttribute("y2",y2);
  el.setAttribute("stroke","#000");el.setAttribute("stroke-width","1.2");
  
  
  overlay.appendChild(el);
}
function tickText(x,y,str,anchor,name){
  const el=document.createElementNS(NS,"text");
  el.setAttribute("x",x);el.setAttribute("y",y);el.setAttribute("class","tick");el.setAttribute("text-anchor",anchor);
  el.textContent=str;
  
  
  overlay.appendChild(el);
}
function frame(x,y,w,h,name){
  const el=document.createElementNS(NS,"rect");
  el.setAttribute("x",x);el.setAttribute("y",y);el.setAttribute("width",w);el.setAttribute("height",h);
  el.setAttribute("fill","none");el.setAttribute("stroke","#000");el.setAttribute("stroke-width","1.2");
  
  
  overlay.appendChild(el);
}
function bottomTicks(left,bottom,d0,d1,values,labels,labelY,prefix){
  const s=axisScale(d0,d1,left,left+PW);
  values.forEach((v,i)=>{
    tickLine(s(v),bottom,s(v),bottom+7,prefix+"-tick");
    tickText(s(v),labelY,labels[i],"middle",prefix+"-tick-label");
  });
}
function leftTicks(left,top,h,d0,d1,values,labels,prefix,withText){
  const s=axisScale(d0,d1,top+h,top);
  values.forEach((v,i)=>{
    tickLine(left-7,s(v),left,s(v),prefix+"-tick");
    if(withText) tickText(left-15,s(v)+6.5,labels[i],"end",prefix+"-tick-label");
  });
}
function colorbarAxes(left,top,h,vmax,values,labelY,prefix){
  frame(left,top,PW,h,prefix+"-frame");
  bottomTicks(left,top+h,0,vmax,values,values.map(String),labelY,prefix);
}
const panelNames=["average","std","snr"];
const cbar1Sets=[[20,cbarAvgTicks],[10,cbarStdTicks],[10,cbarSnTicks]];
const cbar2Sets=[[400,cbarAvgEdgeTicks],[40,cbarStdEdgeTicks],[30,cbarSnEdgeTicks]];
columnLefts.forEach((L,c)=>{
  const n=panelNames[c];
  frame(L,34,PW,319,n+"-map-frame");
  bottomTicks(L,353,-2,18,xTickValues,xTickLabels,382,n+"-map-x");
  leftTicks(L,34,319,-10,10,yTickValues,yTickLabels,n+"-map-y",true);
  colorbarAxes(L,438,16,cbar1Sets[c][0],cbar1Sets[c][1],483,n+"-colorbar");
  frame(L,571,PW,32,n+"-xz-frame");
  bottomTicks(L,603,-2,18,xTickValues,xTickLabels,632,n+"-xz-x");
  leftTicks(L,571,32,-1,1,zTickValues,zTickLabels,n+"-xz-z",true);
  frame(L,680,PW,32,n+"-yz-frame");
  bottomTicks(L,712,-10,10,yTickValues,yTickLabels,741,n+"-yz-y");
  leftTicks(L,680,32,-1,1,zTickValues,zTickLabels,n+"-yz-z",true);
  colorbarAxes(L,785,17,cbar2Sets[c][0],cbar2Sets[c][1],830,n+"-edge-colorbar");
});
</script>
</body>
</html>
